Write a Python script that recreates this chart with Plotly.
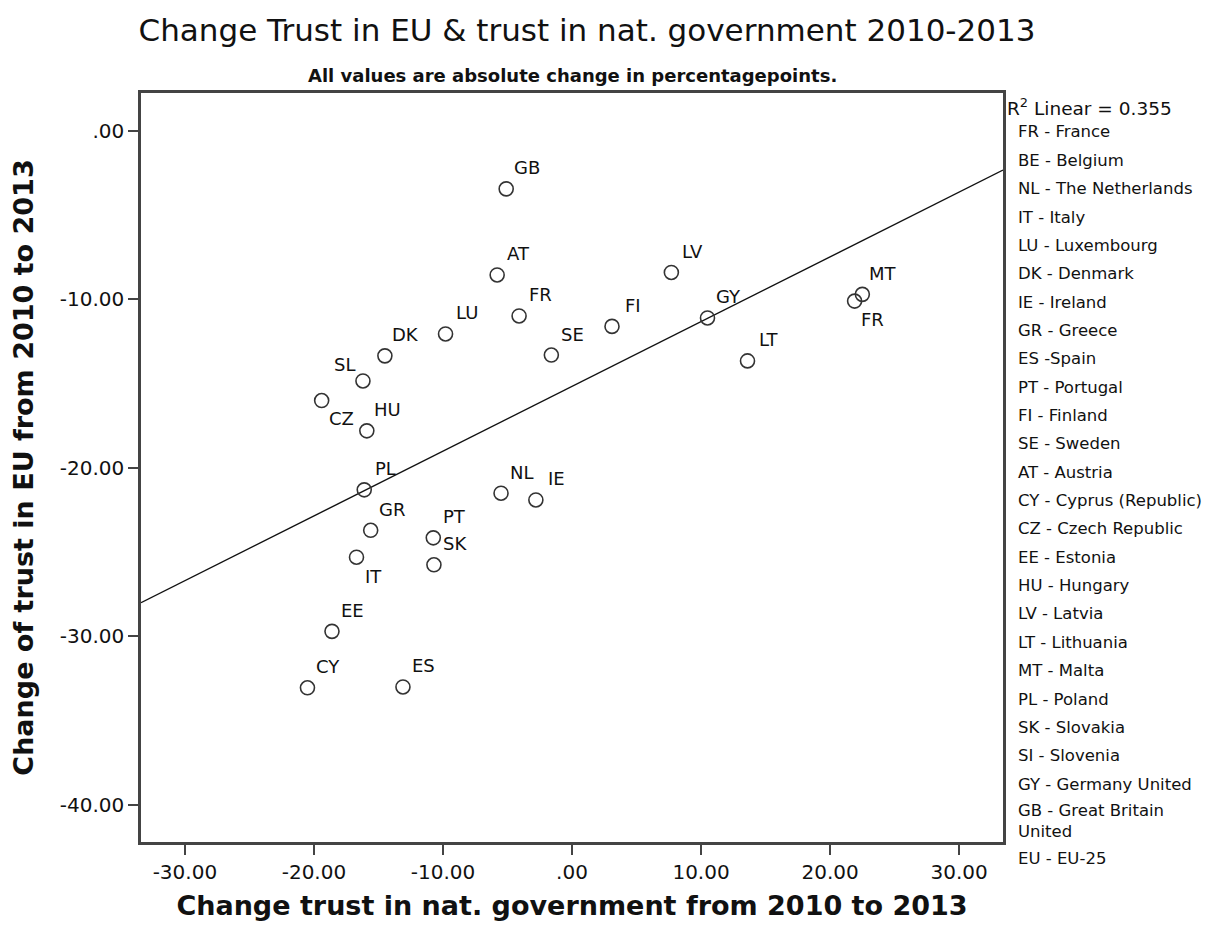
import numpy as np
import plotly.graph_objects as go

# Country codes and their changes (percentage points, 2010 -> 2013)
codes = ["GB", "AT", "FR", "LU", "DK", "SL", "CZ", "HU", "SE", "FI", "LV", "GY", "LT",
         "FR", "MT", "PL", "NL", "IE", "GR", "PT", "SK", "IT", "EE", "CY", "ES"]
change_gov = [-5.1, -5.8, -4.1, -9.8, -14.5, -16.2, -19.4, -15.9, -1.6, 3.1, 7.7, 10.5, 13.6,
              21.9, 22.5, -16.1, -5.5, -2.8, -15.6, -10.75, -10.7, -16.7, -18.6, -20.5, -13.1]
change_eu = [-3.44, -8.55, -10.98, -12.05, -13.35, -14.84, -16.0, -17.8, -13.3, -11.6, -8.4, -11.1, -13.65,
             -10.1, -9.7, -21.3, -21.5, -21.9, -23.7, -24.15, -25.75, -25.3, -29.7, -33.05, -33.0]

r2_linear = 0.355

legend_entries = [
    "FR - France", "BE - Belgium", "NL - The Netherlands", "IT - Italy", "LU - Luxembourg",
    "DK - Denmark", "IE - Ireland", "GR - Greece", "ES -Spain", "PT - Portugal", "FI - Finland",
    "SE - Sweden", "AT - Austria", "CY - Cyprus (Republic)", "CZ - Czech Republic", "EE - Estonia",
    "HU - Hungary", "LV - Latvia", "LT - Lithuania", "MT - Malta", "PL - Poland", "SK - Slovakia",
    "SI - Slovenia", "GY - Germany United", "GB - Great Britain<br>United", "EU - EU-25",
]

x_ticks = [-30, -20, -10, 0, 10, 20, 30]
x_tick_text = ["-30.00", "-20.00", "-10.00", ".00", "10.00", "20.00", "30.00"]
y_ticks = [0, -10, -20, -30, -40]
y_tick_text = [".00", "-10.00", "-20.00", "-30.00", "-40.00"]

# Label offsets in pixels (default up-right of the marker)
default_offset = (21, 21)
special_offsets = {6: (20, -18), 5: (-18, 16), 13: (18, -18), 21: (17, -19)}

X_RANGE = [-33.4, 33.4]
Y_RANGE = [-42.2, 2.25]

W, H = 1222, 929
ML, MR, MT_, MB = 141, 219, 93, 87
PW, PH = W - ML - MR, H - MT_ - MB
FONT = "DejaVu Sans"
INK = "#111"


def px_x(px):
    return (px - ML) / PW


def px_y(py):
    return (H - MB - py) / PH


fig = go.Figure()

# Linear fit line
slope, intercept = np.polyfit(change_gov, change_eu, 1)
fx = np.array(X_RANGE)
fig.add_trace(go.Scatter(x=fx, y=slope * fx + intercept, mode="lines",
                         line=dict(color="#111", width=1.4), hoverinfo="skip",
                         showlegend=False))

fig.add_trace(go.Scatter(
    x=change_gov, y=change_eu, mode="markers", text=codes,
    marker=dict(symbol="circle-open", size=14, color="#333", line=dict(width=1.6)),
    showlegend=False,
))

annotations = []
for i, (c, xv, yv) in enumerate(zip(codes, change_gov, change_eu)):
    dx, dy = special_offsets.get(i, default_offset)
    annotations.append(dict(x=xv, y=yv, xref="x", yref="y", text=c, showarrow=False,
                            xshift=dx, yshift=dy, xanchor="center", yanchor="middle",
                            font=dict(family=FONT, size=18, color=INK)))

# Subtitle
annotations.append(dict(x=0.5, y=px_y(76), xref="paper", yref="paper",
                        text="<b>All values are absolute change in percentagepoints.</b>",
                        showarrow=False, xanchor="center", yanchor="middle",
                        font=dict(family=FONT, size=18, color=INK)))

# Fit statistic and country key on the right
annotations.append(dict(x=px_x(1005), y=px_y(107), xref="paper", yref="paper",
                        text=f"R<sup>2</sup> Linear = {r2_linear:.3f}",
                        showarrow=False, xanchor="left", yanchor="middle",
                        font=dict(family=FONT, size=18.5, color=INK)))
ypos = 132.0
for entry in legend_entries:
    lines = entry.count("<br>") + 1
    center = ypos + (lines - 1) * 9
    annotations.append(dict(x=px_x(1016), y=px_y(center), xref="paper", yref="paper",
                            text=entry, showarrow=False, xanchor="left", yanchor="middle",
                            align="left",
                            font=dict(family=FONT, size=16.5, color=INK)))
    ypos += 28.35 + (lines - 1) * 18

axis_common = dict(showgrid=False, zeroline=False, showline=True, linecolor="#444",
                   linewidth=2.5, mirror=True, ticks="outside", ticklen=10, tickwidth=2,
                   tickcolor="#444", tickfont=dict(family=FONT, size=20, color=INK))

fig.update_layout(
    width=W, height=H,
    margin=dict(l=ML, r=MR, t=MT_, b=MB),
    paper_bgcolor="white", plot_bgcolor="white",
    title=dict(text="Change Trust in EU & trust in nat. government 2010-2013",
               x=587 / W, xanchor="center", y=1 - 30 / H, yanchor="middle",
               font=dict(family=FONT, size=31, color=INK)),
    annotations=annotations,
    xaxis=dict(range=X_RANGE, tickvals=x_ticks, ticktext=x_tick_text, **axis_common,
               title=dict(text="<b>Change trust in nat. government from 2010 to 2013</b>",
                          standoff=14, font=dict(family=FONT, size=27, color=INK))),
    yaxis=dict(range=Y_RANGE, tickvals=y_ticks, ticktext=y_tick_text, **axis_common,
               title=dict(text="<b>Change of trust in EU from 2010 to 2013</b>",
                          standoff=19, font=dict(family=FONT, size=27, color=INK))),
)

fig.write_html("out.html")
